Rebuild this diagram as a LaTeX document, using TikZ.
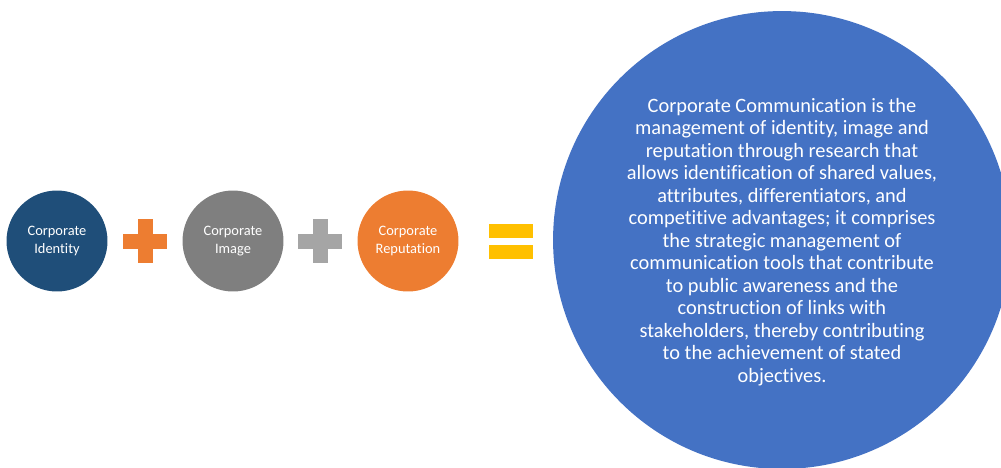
\documentclass[tikz,border=0pt]{standalone}
\usepackage{fontspec}
\setmainfont[Ligatures=NoCommon]{Carlito}
\usepackage{xcolor}
\definecolor{identblue}{HTML}{1F4E79}
\definecolor{imagegrey}{HTML}{7F7F7F}
\definecolor{reporange}{HTML}{ED7D31}
\definecolor{plusgrey}{HTML}{A5A5A5}
\definecolor{eqyellow}{HTML}{FFC000}
\definecolor{commblue}{HTML}{4472C4}

\begin{document}
\begin{tikzpicture}[x=0.02cm,y=-0.02cm,
  term/.style={circle, minimum size=2.02cm, inner sep=0, align=center, text=white,
    font=\fontsize{8.2}{10}\selectfont}]
\useasboundingbox (0,0) rectangle (1001,467);
\clip (0,0) rectangle (1001,467);
% the three terms
\node[term, fill=identblue] (identity) at (57,241) {Corporate\\Identity};
\node[term, fill=imagegrey] (image) at (233,241) {Corporate\\Image};
\node[term, fill=reporange] (reputation) at (408,241) {Corporate\\Reputation};
% plus signs
\foreach \x/\c in {145/reporange, 320/plusgrey} {
  \fill[\c] (\x-22,241-7.5) rectangle (\x+22,241+7.5);
  \fill[\c] (\x-7.5,241-22) rectangle (\x+7.5,241+22);
}
% equals sign
\fill[eqyellow] (489,224) rectangle (533,238);
\fill[eqyellow] (489,245) rectangle (533,259);
% result
\node[circle, fill=commblue, minimum size=9.16cm, inner sep=0] (comm) at (782,240) {};
\node[align=center, text=white, font=\fontsize{11.6}{12.8}\selectfont] (commtext) at ([yshift=-0.04cm]comm.center)
  {Corporate Communication is the\\
   management of identity, image and\\
   reputation through research that\\
   allows identification of shared values,\\
   attributes, differentiators, and\\
   competitive advantages; it comprises\\
   the strategic management of\\
   communication tools that contribute\\
   to public awareness and the\\
   construction of links with\\
   stakeholders, thereby contributing\\
   to the achievement of stated\\
   objectives.};
\end{tikzpicture}
\end{document}
